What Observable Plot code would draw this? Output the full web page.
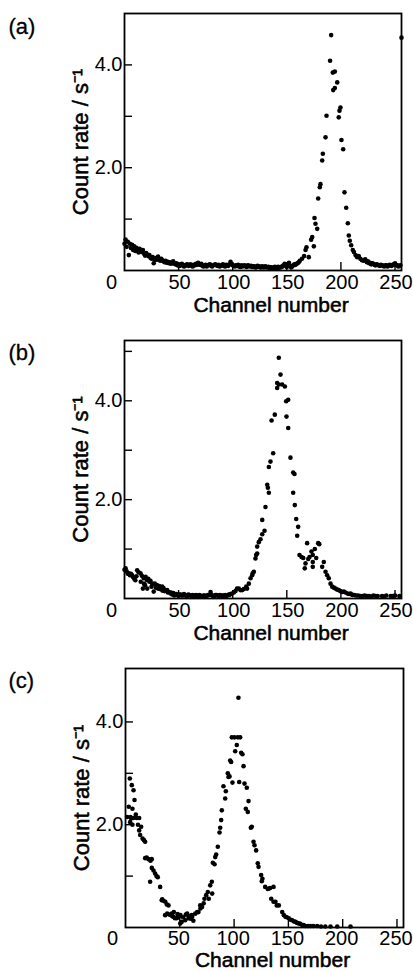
<!DOCTYPE html>
<html><head><meta charset="utf-8">
<script src="https://cdn.jsdelivr.net/npm/d3@7"></script>
<script src="https://cdn.jsdelivr.net/npm/@observablehq/plot@0.6"></script>
<style>
body{margin:0;background:#fff;}
#chart svg{display:block}
</style></head><body><div id="chart"></div>
<script>
const panelLabels = ["(a)", "(b)", "(c)"];
const xLabel = "Channel number";
const yLabel = "Count rate / s\u207B\u00B9";
const xTickValues = [50, 100, 150, 200, 250];
const xZeroTick = [0];
const yLabelValues = [2, 4];
const yTickMarksA = [1, 2, 3, 4];
const yTickMarksB = [1, 2, 3, 4, 5];
const yTickMarksC = [1, 2, 3, 4];

// [channel, count rate]
const panelA = [[0,0.52],[1,0.60],[2,0.46],[3,0.56],[4,0.30],[5,0.52],[6,0.44],[7,0.50],[8,0.40],[9,0.47],[10,0.38],[11,0.44],[12,0.40],[13,0.35],[14,0.42],[15,0.37],[16,0.36],[17,0.40],[18,0.33],[19,0.29],[20,0.34],[21,0.31],[22,0.28],[23,0.30],[24,0.25],[25,0.23],[26,0.26],[27,0.14],[28,0.20],[29,0.24],[30,0.21],[31,0.27],[32,0.22],[33,0.19],[34,0.23],[35,0.20],[36,0.18],[37,0.16],[38,0.19],[39,0.15],[40,0.17],[41,0.14],[42,0.16],[43,0.13],[44,0.15],[45,0.18],[46,0.13],[47,0.12],[48,0.14],[49,0.10],
[50,0.12],[51,0.09],[52,0.10],[53,0.13],[54,0.11],[55,0.08],[56,0.09],[57,0.11],[58,0.12],[59,0.09],[60,0.10],[61,0.12],[62,0.09],[63,0.08],[64,0.11],[65,0.10],[66,0.13],[67,0.11],[68,0.15],[69,0.12],[70,0.11],[71,0.13],[72,0.09],[73,0.08],[74,0.10],[75,0.11],[76,0.08],[77,0.10],[78,0.11],[79,0.12],[80,0.09],[81,0.08],[82,0.10],[83,0.11],[84,0.12],[85,0.10],[86,0.09],[87,0.11],[88,0.08],[89,0.09],[90,0.10],[91,0.12],[92,0.09],[93,0.08],[94,0.11],[95,0.10],[96,0.09],[97,0.12],[98,0.17],[99,0.13],[100,0.10],[101,0.09],[102,0.08],[103,0.10],[104,0.09],[105,0.11],[106,0.08],[107,0.07],[108,0.10],[109,0.08],[110,0.09],[111,0.10],[112,0.08],[113,0.07],[114,0.10],[115,0.09],[116,0.08],[117,0.09],[118,0.07],[119,0.08],[120,0.08],[121,0.06],[122,0.07],[123,0.09],[124,0.08],[125,0.07],[126,0.06],[127,0.08],[128,0.07],[129,0.06],[130,0.08],[131,0.07],[132,0.06],[133,0.07],[134,0.05],[135,0.06],[136,0.06],[137,0.05],[138,0.05],[139,0.07],[140,0.06],[141,0.05],[142,0.07],[143,0.06],[144,0.06],[145,0.07],[146,0.08],[147,0.10],[148,0.13],[149,0.09],[150,0.07],[151,0.10],[152,0.15],[153,0.09],[154,0.06],[155,0.08],[156,0.10],[157,0.12],[158,0.11],[159,0.13],[160,0.14],
[161,0.16],[162,0.19],[164,0.23],[166,0.28],[167.3,0.40],[168.2,0.45],[170.3,0.26],[172.5,0.60],[173.5,0.65],[175,0.47],[175.6,1.02],[176.5,0.91],[178.1,0.81],[179,1.40],[180.5,1.62],[181.1,1.68],[182.7,2.14],[183.3,2.27],[185.8,2.59],[186.7,3.01],[190,4.08],[191,4.58],[192.5,3.85],[192.9,3.51],[194.4,3.55],[194.4,3.87],[196.6,3.66],[198,2.98],[198.7,3.11],[199.6,3.17],[200.5,2.54],[202.1,2.36],[203.3,1.52],[204.9,1.22],[206.4,0.92],[207.3,0.68],[208.2,0.58],[209.5,0.49],[211,0.40],[212,0.36],[213.5,0.30],[215,0.26],[216.5,0.28],[218,0.23],[219.5,0.20],[221,0.19],[222.5,0.22],
[224,0.16],[225,0.18],[226,0.14],[227,0.15],[228,0.12],[229,0.14],[230,0.13],[231,0.11],[232,0.10],[233,0.12],[234,0.11],[235,0.10],[236,0.09],[237,0.11],[238,0.10],[239,0.09],[240,0.08],[241,0.10],[242,0.10],[243,0.08],[244,0.09],[245,0.11],[246,0.10],[247,0.09],[248,0.11],[249,0.12],[250,0.14],[251,0.11],[252,0.10],[253,0.08],[254,0.09],[255,0.10],[256,4.53]];

const panelB = [[0,0.58],[1,0.61],[2,0.55],[3,0.50],[4,0.51],[5,0.47],[6,0.50],[7,0.47],[8,0.43],[9,0.40],[10,0.37],[11,0.45],[11.7,0.57],[13,0.53],[14.8,0.51],[15,0.34],[16,0.46],[17,0.20],[17.8,0.41],[18,0.30],[19,0.27],[19.5,0.44],[20.9,0.37],[21,0.20],[22,0.40],[23,0.34],[24,0.36],[25,0.24],[25.6,0.30],[27,0.14],[28,0.30],[29,0.22],[30,0.27],[31,0.20],[32,0.25],[33,0.19],[34.8,0.24],[35,0.16],[36,0.21],[37,0.15],[38,0.17],[39.4,0.17],[40,0.12],[41,0.13],
[42.5,0.10],[43,0.12],[44,0.08],[45,0.11],[46,0.06],[47,0.09],[48,0.09],[49,0.07],[50,0.05],[51,0.08],[52,0.08],[53,0.06],[54,0.06],[55,0.09],[56,0.07],[57,0.05],[58,0.05],[59,0.08],[60,0.07],[61,0.06],[62,0.05],[63,0.07],[64,0.06],[65,0.05],[66,0.07],[67,0.06],[68,0.05],[69,0.07],[70,0.06],[71,0.05],[72,0.04],[73,0.06],[74,0.06],[75,0.05],[76,0.05],[77,0.07],[78,0.07],[79.5,0.13],[80,0.08],[81,0.06],[82,0.05],[83,0.05],[84,0.07],[85,0.07],[86,0.06],[87,0.05],[88,0.07],[89,0.06],[90,0.06],[91,0.05],[92,0.06],[93,0.07],[94,0.05],[95,0.06],[96.4,0.08],[97,0.07],[98,0.09],[99.5,0.10],
[101,0.12],[102.6,0.15],[104,0.20],[105.6,0.20],[107.2,0.17],[108.7,0.17],[110.3,0.19],[112.5,0.24],[113.3,0.20],[114.9,0.30],[116.5,0.41],[118,0.47],[118.5,0.51],[119.5,0.54],[121,0.81],[121.7,0.88],[122.6,0.91],[122.6,1.05],[124.1,1.14],[125.7,1.20],[127.3,1.30],[127.3,1.59],[129.4,1.37],[130.3,1.85],[131.9,2.30],[132.5,2.24],[133.4,2.14],[133.4,2.66],[134.9,2.77],[135.9,3.60],[137.4,2.94],[138.9,3.72],[141.1,4.36],[141.1,4.26],[142.6,4.87],[142.6,4.33],[144.2,4.53],[145.7,4.33],[148.2,4.29],[149.4,3.99],[149.7,3.68],[151.3,4.02],[151.3,3.45],[153.4,2.85],[155.9,2.55],[155.9,2.14],[157.1,2.52],[157.4,1.89],[158.7,1.61],[159.6,1.27],[160.5,1.45],[161.7,0.88],[163.6,0.84],[165.2,0.82],[166.6,0.61],[167.3,0.71],[168.8,1.12],[169.8,0.80],[171,0.84],[172.8,0.95],[174,0.88],[174,0.74],[174,0.64],[175.9,1.00],[177.2,0.82],[179,1.12],[180,1.10],[182.7,0.64],[184.2,0.74],[185.8,0.54],[187.3,0.47],[188.8,0.41],[190.4,0.30],[191.9,0.24],[193.5,0.22],[195,0.20],[196.5,0.18],[198,0.17],[199.5,0.15],[201.2,0.13],[202.7,0.14],[204.3,0.12],[206,0.10],[207.5,0.09],[208.9,0.10],[210,0.08],[211,0.07],[212.5,0.07],[214,0.06],[216,0.06],[218,0.05],[220,0.05],[222,0.06],[224,0.05],[226,0.05],[228,0.04],[230,0.06],[232,0.05],[234,0.05],[238,0.05],[240,0.04],[242,0.06],[246,0.05],[248,0.05],[250,0.06],[254,0.05]];

const panelC = [[1.5,2.15],[3,2.35],[4,2.90],[4.3,2.05],[4.6,2.15],[5.2,2.12],[5.8,2.77],[6.4,2.00],[6.4,2.31],[7.4,2.67],[7.4,2.13],[8.3,2.48],[9.5,2.20],[10.4,2.13],[11.5,2.00],[12.6,2.13],[12.6,1.89],[13.5,1.80],[14.4,1.96],[15.7,1.73],[17,1.70],[18.1,1.67],[18.1,1.35],[19.5,1.36],[21.2,1.33],[22.7,0.89],[23,1.30],[24.2,1.33],[24.2,1.16],[25.8,1.11],[27.3,1.05],[28.5,1.00],[29.7,0.98],[31.9,0.79],[33.4,0.53],[33.8,0.55],[35,0.52],[36.6,0.50],[36.5,0.24],[38,0.45],[38.4,0.27],[39.6,0.43],[40.5,0.25],[42.6,0.27],[43,0.22],[44.2,0.21],[44.5,0.30],[45.5,0.18],[47.2,0.18],[48,0.26],[49,0.20],[50.4,0.08],[50.6,0.24],[51.8,0.11],[53,0.20],[55,0.14],[55.5,0.25],[56.8,0.27],[58,0.18],[59,0.22],[60,0.17],[61,0.24],[61.4,0.21],[62.5,0.13],[64.2,0.27],[66,0.30],[67.2,0.30],[68.8,0.43],[69,0.37],[70.5,0.40],[72,0.47],[72.7,0.56],[74.3,0.63],[75.8,0.69],[76.7,0.56],[78,0.82],[79.5,0.89],[79.8,0.66],[80.4,1.26],[82,1.23],[82.6,1.37],[83.5,1.42],[85,1.57],[86.6,1.85],[87.2,1.94],[88.1,2.09],[88.7,2.28],[90.2,2.75],[91.8,2.51],[92.4,2.65],[94.2,3.00],[94.8,2.93],[95.8,2.94],[96.4,3.25],[97.3,3.22],[97.9,3.70],[98.5,2.82],[100.3,3.70],[101,3.43],[102.5,3.55],[103.4,3.70],[104,4.47],[104.7,2.83],[105.6,3.70],[106.5,3.40],[107.7,3.37],[108.7,3.14],[109.6,2.80],[110.8,2.31],[111.7,2.72],[112.6,2.25],[113.3,2.46],[115.4,1.94],[116.3,1.96],[117.9,1.67],[118.8,1.60],[120.3,1.50],[121.8,1.25],[122.5,1.18],[124.9,1.02],[125.5,0.90],[126.1,0.95],[128.6,0.79],[131,0.75],[132,0.76],[133.2,0.77],[134.2,0.56],[136.3,0.79],[136.3,0.50],[138.1,0.50],[139.3,0.43],[141.2,0.43],[144.3,0.30],[145.8,0.24],[147.3,0.21],[148.5,0.20],[150.4,0.18],[152,0.15],[153.5,0.14],[155,0.12],[156.5,0.11],[158,0.09],[159.6,0.08],[161,0.07],[162.7,0.05],[164,0.05],[165.7,0.03],[168,0.03],[170.3,0.03],[173,0.03],[176.5,0.03],[180,0.02],[184,0.02],[188.8,0.02],[195,0.02],[207.2,0.02]];

const FONT = "'Liberation Sans', Arial, Helvetica, sans-serif";
const heavy = {fill: "black", stroke: "black", strokeWidth: 0.55};

function panel(data, label, yTicks, o) {
  const fw = 413 - o.ml - o.mr;
  const fh = o.height - o.mt - o.mb;
  return Plot.plot({
    width: 413, height: o.height,
    marginTop: o.mt, marginBottom: o.mb, marginLeft: o.ml, marginRight: o.mr,
    style: {fontFamily: FONT, fontSize: "20px", color: "black", background: "white"},
    x: {domain: [0, 256]},
    y: {domain: [0, o.ymax]},
    marks: [
      Plot.tickX(xTickValues, {x: d => d, stroke: "black", strokeWidth: 1.4, insetTop: fh - 8}),
      Plot.tickY(yTicks, {y: d => d, stroke: "black", strokeWidth: 1.4, insetRight: fw - 8}),
      Plot.frame({stroke: "black", strokeWidth: 1.8}),
      Plot.axisX(xTickValues, {tickSize: 0, tickPadding: o.tp, dx: o.tdx, label: null, tickFormat: d => String(d), ...heavy}),
      Plot.axisX(xZeroTick, {tickSize: 0, tickPadding: o.tp, dx: -13, label: null, tickFormat: d => String(d), ...heavy}),
      Plot.axisY(yLabelValues, {tickSize: 0, tickPadding: 2, label: null, tickFormat: d => d.toFixed(1), ...heavy}),
      Plot.dot(data, {x: d => d[0], y: d => d[1], r: 2.3, fill: "black", stroke: null}),
      Plot.text([xLabel], {text: d => d, frameAnchor: "bottom", dx: 8, dy: o.xdy, lineAnchor: "bottom", textAnchor: "middle", fontSize: 21, ...heavy}),
      Plot.text([yLabel], {text: d => d, frameAnchor: "left", rotate: -90, dx: -37, lineAnchor: "bottom", textAnchor: "middle", fontSize: 22, ...heavy}),
      Plot.text([label], {text: d => d, frameAnchor: "top-left", dx: o.ldx, dy: o.ldy, textAnchor: "start", lineAnchor: "middle", fontSize: 22, fill: "black", stroke: "black", strokeWidth: 0.3})
    ]
  });
}

const chart = document.getElementById("chart");
chart.append(panel(panelA, panelLabels[0], yTickMarksA, {height: 320, mt: 13, mb: 50, ml: 124, mr: 12, ymax: 5, ldx: -116, ldy: 13, tdx: 1, tp: 4, xdy: 41}));
chart.append(panel(panelB, panelLabels[1], yTickMarksB, {height: 325, mt: 20, mb: 47, ml: 124, mr: 12, ymax: 5.22, ldx: -116, ldy: 12, tdx: 1, tp: 4, xdy: 41}));
chart.append(panel(panelC, panelLabels[2], yTickMarksC, {height: 326, mt: 23, mb: 44, ml: 125, mr: 10, ymax: 5.04, ldx: -117, ldy: 12, tdx: -1, tp: 3, xdy: 39}));
</script></body></html>
